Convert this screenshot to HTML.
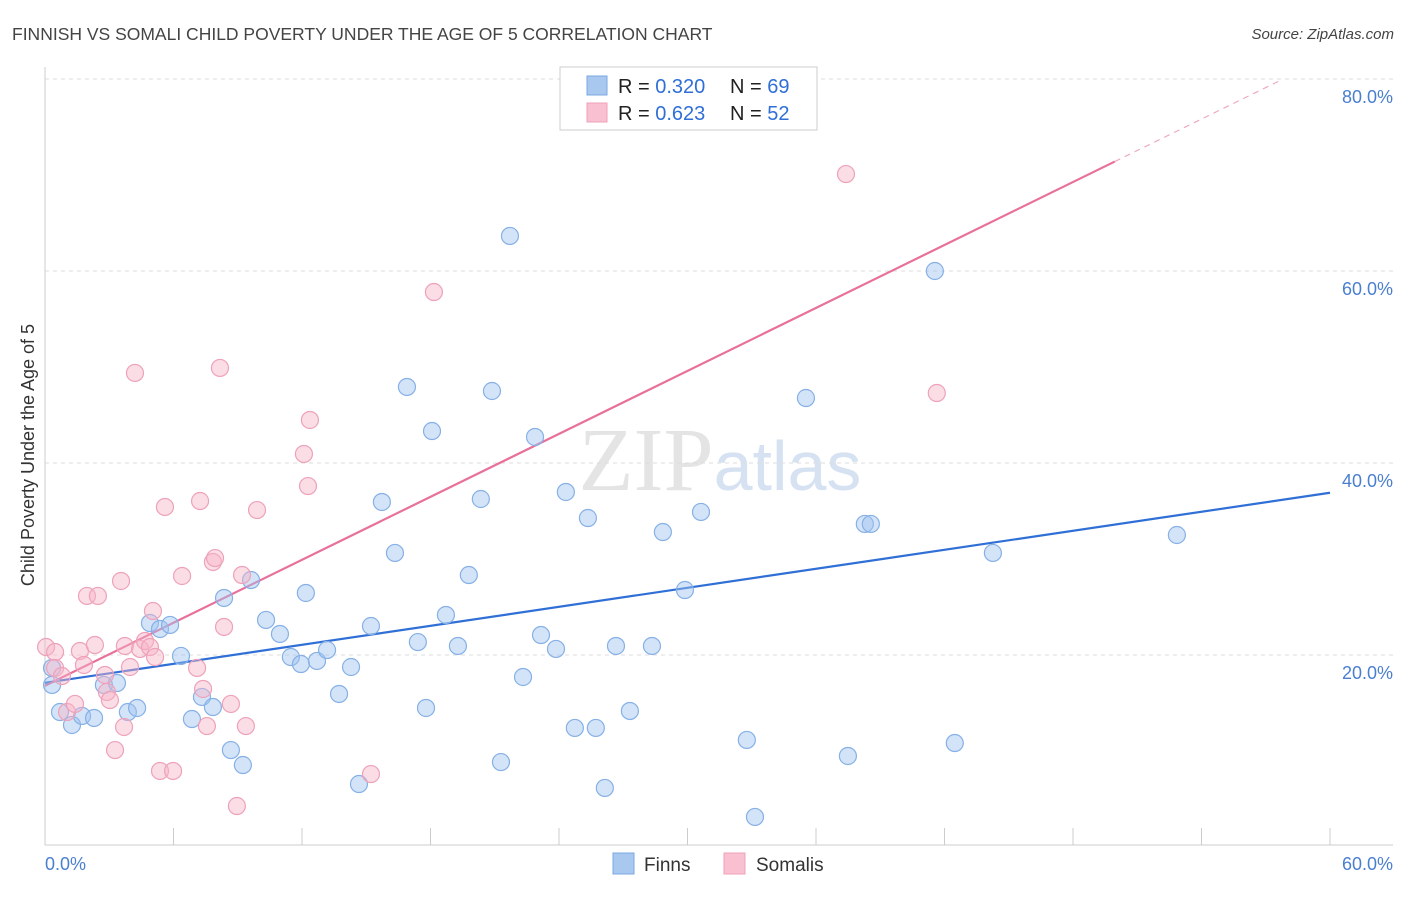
<!DOCTYPE html>
<html><head><meta charset="utf-8"><style>
body{margin:0;background:#fff;font-family:"Liberation Sans",sans-serif;}
</style></head><body>
<svg width="1406" height="892" xmlns="http://www.w3.org/2000/svg" id="chart">
<text x="12" y="40" font-size="17.5" fill="#444">FINNISH VS SOMALI CHILD POVERTY UNDER THE AGE OF 5 CORRELATION CHART</text>
<text x="1394" y="39" font-size="15" fill="#444" font-style="italic" text-anchor="end">Source: ZipAtlas.com</text>
<text x="720" y="490" font-size="90" text-anchor="middle" fill="#e4e4e4" font-family="Liberation Serif">ZIP<tspan fill="#d6e2f2" font-family="Liberation Sans" font-size="70">atlas</tspan></text>
<g id="grid"></g>
<g id="axes"></g>
<g id="lines"></g>
<g id="pts"></g>
<text transform="translate(34,455) rotate(-90)" font-size="18" fill="#333" text-anchor="middle">Child Poverty Under the Age of 5</text>
<g>
<rect x="560" y="67" width="257" height="63" fill="#fff" stroke="#ccc"/>
<rect x="587" y="76" width="20" height="19" fill="#a8c8f0" stroke="#7aa8e0"/>
<text x="618" y="93" font-size="20" fill="#222">R = <tspan fill="#2f6fd6">0.320</tspan></text>
<text x="730" y="93" font-size="20" fill="#222">N = <tspan fill="#2f6fd6">69</tspan></text>
<rect x="587" y="103" width="20" height="19" fill="#f8c0d0" stroke="#f0a0b8"/>
<text x="618" y="120" font-size="20" fill="#222">R = <tspan fill="#2f6fd6">0.623</tspan></text>
<text x="730" y="120" font-size="20" fill="#222">N = <tspan fill="#2f6fd6">52</tspan></text>
</g>
<g>
<rect x="613" y="853" width="21" height="21" fill="#a8c8f0" stroke="#7aa8e0"/>
<text x="644" y="871" font-size="19" fill="#333">Finns</text>
<rect x="724" y="853" width="21" height="21" fill="#f8c0d0" stroke="#f0a0b8"/>
<text x="756" y="871" font-size="19" fill="#333">Somalis</text>
</g>
</svg>
<script>
const yTicks=[20,40,60,80];
const yTickLabels=["20.0%","40.0%","60.0%","80.0%"];
const xTicks=[0,6,12,18,24,30,36,42,48,54,60];
const finnsX=[.33,.33,.70,1.26,1.73,2.29,2.75,3.36,3.87,4.30,4.90,5.37,5.84,6.35,6.86,7.33,7.84,8.36,8.68,9.24,9.62,10.32,10.97,11.48,11.95,12.18,12.70,13.17,13.73,14.29,14.66,15.22,15.73,16.34,16.90,17.41,17.79,18.07,18.72,19.28,19.79,20.35,20.87,21.29,21.71,22.32,22.88,23.16,23.86,24.32,24.74,25.35,25.72,26.14,26.66,27.31,28.34,28.85,29.88,30.63,32.77,35.53,37.49,38.28,38.56,41.55,42.48,44.26,52.85,33.15];
const finnsY=[18.65,16.88,14.06,12.71,13.65,13.44,16.88,17.08,14.06,14.48,23.33,22.71,23.13,19.90,13.33,15.63,14.58,25.94,10.10,8.54,27.81,23.65,22.19,19.79,19.06,26.46,19.38,20.52,15.94,18.75,6.56,23.02,35.94,30.63,47.92,21.35,14.48,43.33,24.17,20.94,28.33,36.25,47.50,8.85,63.65,17.71,42.71,22.08,20.63,36.98,12.40,34.27,12.40,6.15,20.94,14.17,20.94,32.81,26.77,34.90,11.15,46.77,9.48,33.65,33.65,60.00,10.83,30.63,32.50,3.13];
const somalisX=[.05,.47,.47,.79,1.03,1.40,1.63,1.82,1.96,2.33,2.47,2.80,2.89,3.03,3.27,3.55,3.69,3.73,3.97,4.20,4.44,4.67,4.90,5.04,5.14,5.37,5.60,5.98,6.40,7.10,7.24,7.38,7.56,7.84,7.94,8.17,8.36,8.68,8.96,9.20,9.38,9.90,12.09,12.28,12.37,15.22,18.16,37.40,41.64];
const somalisY=[20.83,20.31,18.65,17.81,14.06,14.90,20.42,18.96,26.15,21.04,26.15,17.92,16.15,15.31,10.10,27.71,12.50,20.94,18.75,49.38,20.63,21.46,20.83,24.58,19.79,7.92,35.42,7.92,28.23,18.65,36.04,16.46,12.60,29.69,30.10,49.90,22.92,14.90,4.27,28.33,12.60,35.10,40.94,37.60,44.48,7.60,57.81,70.10,47.29];
const finnsTrend=[17.1,36.9];
const somalisTrend=[16.8,71.4];
const somalisSolidEnd=49.95, somalisDashEnd=57.7;

const NS="http://www.w3.org/2000/svg";
const sx=v=>45+v*(1330-45)/60;
const sy=v=>847-v*9.6;
function mk(tag,attrs,parent){const e=document.createElementNS(NS,tag);for(const k in attrs)e.setAttribute(k,attrs[k]);document.getElementById(parent).appendChild(e);return e;}
yTicks.forEach((t,i)=>{
 const l=mk('line',{x1:45,x2:1393,y1:sy(t),y2:sy(t),stroke:'#ddd','stroke-dasharray':'4,4'},'grid');
 
 
 const tx=mk('text',{x:1393,y:sy(t)+24,'font-size':18,fill:'#4a7fd0','text-anchor':'end'},'grid');
 tx.textContent=yTickLabels[i];
 
 
});
const tl=mk('line',{x1:45,x2:1393,y1:79,y2:79,stroke:'#ddd','stroke-dasharray':'4,4'},'grid');


let a=mk('line',{x1:45,x2:45,y1:67,y2:845,stroke:'#ccc'},'axes');


a=mk('line',{x1:45,x2:1393,y1:845,y2:845,stroke:'#ccc'},'axes');


xTicks.forEach(t=>{
 const e=mk('line',{x1:sx(t),x2:sx(t),y1:828,y2:845,stroke:'#ccc'},'axes');
 
 
});
let xl=mk('text',{x:45,y:870,'font-size':18,fill:'#4a7fd0'},'axes');xl.textContent='0.0%';


xl=mk('text',{x:1393,y:870,'font-size':18,fill:'#4a7fd0','text-anchor':'end'},'axes');xl.textContent='60.0%';


function pts(X,Y,fill,stroke,name){X.forEach((x,i)=>{
 const c=mk('circle',{cx:sx(x),cy:sy(Y[i]),r:8.5,fill:fill,stroke:stroke,'stroke-width':1.2},'pts');
 
 
});}
pts(finnsX,finnsY,'rgba(160,195,240,0.45)','#86b0e6','finns-point');
pts(somalisX,somalisY,'rgba(246,180,200,0.45)','#eea2ba','somalis-point');
const ps=(somalisTrend[1]-somalisTrend[0])/somalisSolidEnd;
let ln=mk('line',{x1:sx(0),y1:sy(finnsTrend[0]),x2:sx(60),y2:sy(finnsTrend[1]),stroke:'#2f6fd6','stroke-width':2.2},'lines');


ln=mk('line',{x1:sx(0),y1:sy(somalisTrend[0]),x2:sx(somalisSolidEnd),y2:sy(somalisTrend[1]),stroke:'#e8709a','stroke-width':2.2},'lines');


ln=mk('line',{x1:sx(somalisSolidEnd),y1:sy(somalisTrend[1]),x2:sx(somalisDashEnd),y2:sy(somalisTrend[0]+ps*somalisDashEnd),stroke:'#eeaac0','stroke-width':1.2,'stroke-dasharray':'6,5'},'lines');


</script>
</body></html>
